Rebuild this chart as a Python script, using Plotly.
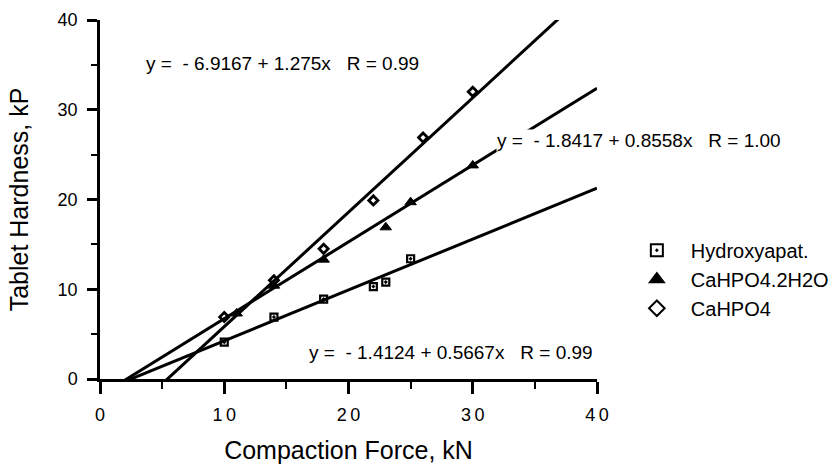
import plotly.graph_objects as go

# Data
force_hydroxy = [10, 14, 18, 22, 23, 25]
hard_hydroxy = [4.1, 6.9, 8.9, 10.3, 10.8, 13.4]

force_dihydrate = [11, 14, 18, 23, 25, 30]
hard_dihydrate = [7.3, 10.4, 13.3, 16.9, 19.7, 23.8]

force_anhydrous = [10, 14, 18, 22, 26, 30]
hard_anhydrous = [6.9, 11.0, 14.5, 19.9, 26.9, 32.0]

# Regression coefficients printed on the chart (intercept, slope, R)
fit_hydroxy = (-1.4124, 0.5667, "0.99")
fit_dihydrate = (-1.8417, 0.8558, "1.00")
fit_anhydrous = (-6.9167, 1.275, "0.99")

x_ticks = [0, 10, 20, 30, 40]
y_ticks = [0, 10, 20, 30, 40]

line_x = [0, 40]
font_family = "Liberation Sans, Arial, Helvetica, sans-serif"

fig = go.Figure()

for (b0, b1, _r) in [fit_hydroxy, fit_dihydrate, fit_anhydrous]:
    fig.add_trace(go.Scatter(
        x=line_x, y=[b0 + b1 * v for v in line_x], mode="lines",
        line=dict(color="black", width=3), showlegend=False, hoverinfo="skip"))

fig.add_trace(go.Scatter(
    x=force_hydroxy, y=hard_hydroxy, mode="markers", name="Hydroxyapat.",
    marker=dict(symbol="square-open-dot", size=7, color="black", line=dict(width=2.2, color="black"))))
fig.add_trace(go.Scatter(
    x=force_dihydrate, y=hard_dihydrate, mode="markers", name="CaHPO4.2H2O",
    marker=dict(symbol="triangle-up", size=10, color="black", line=dict(width=1, color="black"))))
fig.add_trace(go.Scatter(
    x=force_anhydrous, y=hard_anhydrous, mode="markers", name="CaHPO4",
    marker=dict(symbol="diamond-open", size=7, color="black", line=dict(width=2.8, color="black"))))

nb = "\u00a0"
def eq_text(fit):
    b0, b1, r = fit
    return f"y ={nb}{nb}- {abs(b0):.4f} + {b1:g}x{nb}{nb}{nb}R = {r}"

ann = [
    (eq_text(fit_anhydrous), 3.6, 35.2),
    (eq_text(fit_dihydrate), 31.9, 26.6),
    (eq_text(fit_hydroxy), 16.7, 3.0),
]
for txt, ax, ay in ann:
    fig.add_annotation(x=ax, y=ay, xref="x", yref="y", text=txt, showarrow=False,
                       xanchor="left", yanchor="middle", bgcolor="white", borderpad=0,
                       font=dict(family=font_family, size=19, color="black"))

axis_common = dict(
    showgrid=False, zeroline=False, showline=True, linecolor="black", linewidth=2.5,
    ticks="outside", tickcolor="black", tickwidth=2.5,
    tickfont=dict(family=font_family, size=18, color="black"),
    automargin=False,
)

fig.update_xaxes(range=[0, 40], tickvals=x_ticks,
                 ticktext=["\u2009".join(str(v)) for v in x_ticks],
                 ticklen=12, ticklabelstandoff=6,
                 minor=dict(ticks="outside", ticklen=7, tickwidth=2, tickcolor="black", dtick=5),
                 title=dict(text="Compaction Force, kN", font=dict(family=font_family, size=25, color="black"), standoff=19),
                 **axis_common)
fig.update_yaxes(range=[0, 40], tickvals=y_ticks, ticktext=[str(v) for v in y_ticks],
                 ticklen=10, ticklabelstandoff=6,
                 minor=dict(ticks="outside", ticklen=6, tickwidth=2, tickcolor="black", dtick=5),
                 title=dict(text="Tablet Hardness, kP", font=dict(family=font_family, size=25, color="black"), standoff=22),
                 **axis_common)

fig.update_layout(
    width=834, height=464,
    margin=dict(l=100, r=237, t=20, b=85, autoexpand=False),
    paper_bgcolor="white", plot_bgcolor="white",
    font=dict(family=font_family, color="black"),
    legend=dict(x=1.052, y=0.413, xanchor="left", yanchor="top",
                font=dict(family=font_family, size=20, color="black"),
                bgcolor="rgba(0,0,0,0)", itemwidth=58, itemsizing="constant"),
)

fig.write_html("out.html", config={"displayModeBar": False},
               post_script="document.body.style.margin='0';")
